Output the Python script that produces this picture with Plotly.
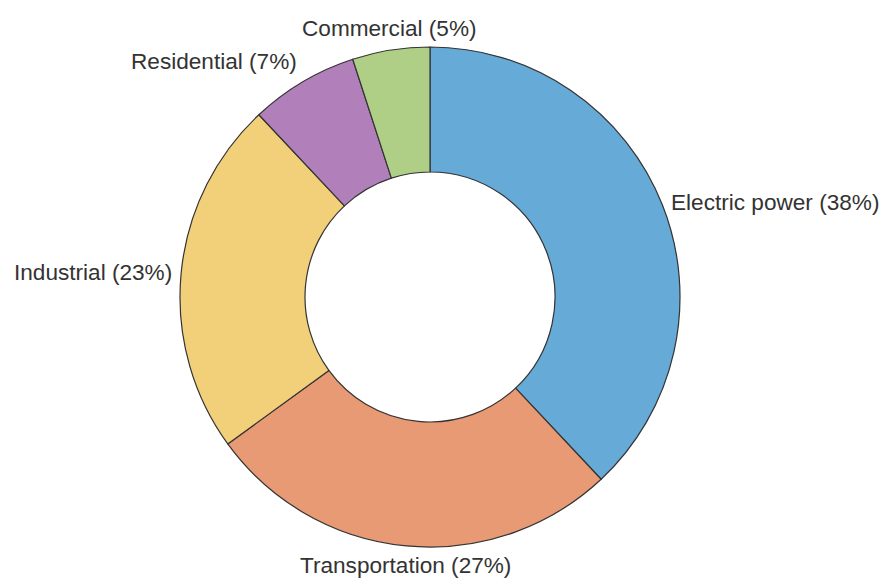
import math
import plotly.graph_objects as go

# Sector shares, listed clockwise from 12 o'clock
sectors = ["Electric power", "Transportation", "Industrial", "Residential", "Commercial"]
shares = [38, 27, 23, 7, 5]
colors = ["#66aad8", "#e89a74", "#f2d07a", "#b17fba", "#aecf85"]

W, H = 881, 581
cx, cy, r = 430, 297, 250   # ring centre and outer radius, in pixels
gap = 7                     # label distance beyond the outer edge

fig = go.Figure(
    go.Pie(
        labels=sectors,
        values=shares,
        sort=False,
        direction="clockwise",
        rotation=0,
        hole=0.5,
        marker=dict(colors=colors, line=dict(color="#333333", width=1.2)),
        textinfo="none",
        hoverinfo="label+value",
        showlegend=False,
        domain=dict(
            x=[(cx - r) / W, (cx + r) / W],
            y=[(H - cy - r) / H, (H - cy + r) / H],
        ),
    )
)

# Outside labels placed at each slice's mid-angle
total = sum(shares)
start = 0.0
for name, val in zip(sectors, shares):
    mid = (start + val / 2) / total * 2 * math.pi
    start += val
    s, c = math.sin(mid), math.cos(mid)
    px = cx + (r + gap) * s
    py = (H - cy) + (r + gap) * c
    xa = "left" if s > 0.5 else ("right" if s < -0.5 else "center")
    ya = "bottom" if c > 0.5 else ("top" if c < -0.5 else "middle")
    fig.add_annotation(
        x=px / W, y=py / H, xref="paper", yref="paper",
        text=f"{name} ({val}%)", showarrow=False,
        xanchor=xa, yanchor=ya,
        yshift=2 if ya == "top" else 0,
        font=dict(family="Liberation Sans, Arial, sans-serif", size=22.6, color="#333333"),
    )

fig.update_layout(
    width=W,
    height=H,
    margin=dict(l=0, r=0, t=0, b=0),
    paper_bgcolor="white",
    plot_bgcolor="white",
)

fig.write_html("out.html")
